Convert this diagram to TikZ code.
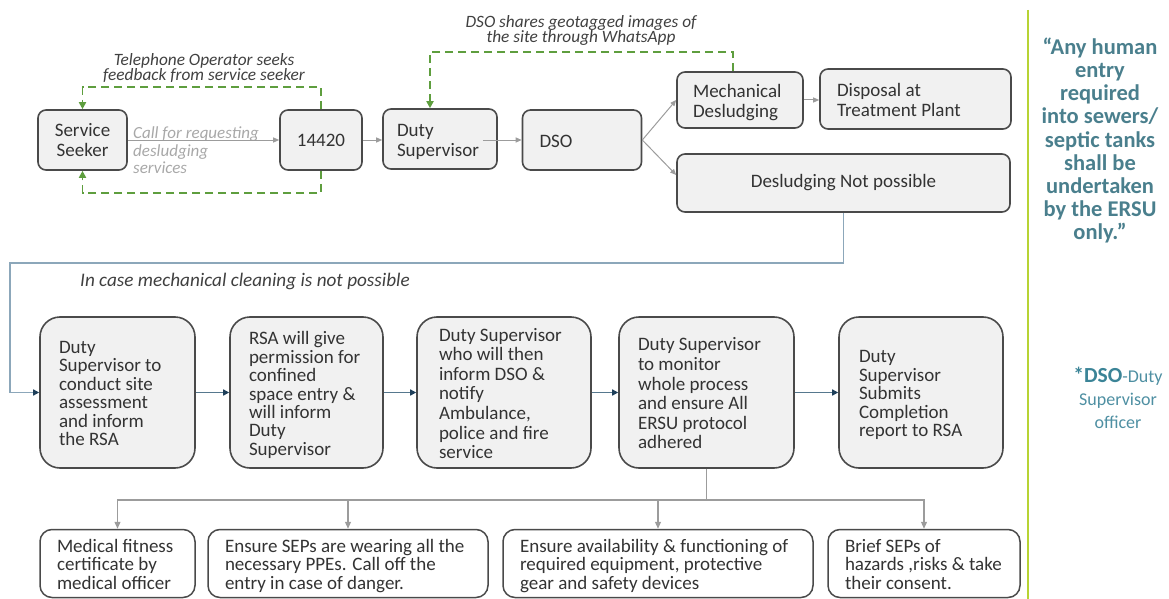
\documentclass[tikz,border=0pt]{standalone}
\usepackage{fontspec}
\setmainfont{Carlito}
\usetikzlibrary{arrows.meta}
\definecolor{boxfill}{HTML}{F1F1F1}
\definecolor{boxline}{HTML}{4A4A4A}
\definecolor{txt}{HTML}{333333}
\definecolor{flowgray}{HTML}{9C9C9C}
\definecolor{dashgreen}{HTML}{5E9E3E}
\definecolor{loopblue}{HTML}{8CA7BA}
\definecolor{linkblue}{HTML}{56788E}
\definecolor{tipnavy}{HTML}{1E3F5A}
\definecolor{ruleline}{HTML}{B7D334}
\definecolor{quotecol}{HTML}{4A7F8D}
\definecolor{notecol}{HTML}{4E8FA2}
\definecolor{notedark}{HTML}{3B8497}
\definecolor{labelgray}{HTML}{404040}
\definecolor{calltxt}{HTML}{A8A8A8}
% left-aligned block of lines in a fixed-width slot, set slightly low
\newcommand{\boxlines}[2]{\makebox[#1][l]{\raisebox{-3.5pt}[\height][\depth]{\begin{tabular}{@{}l@{}}#2\end{tabular}}}}
\begin{document}
\begin{tikzpicture}[x=1pt,y=-1pt,
  topbox/.style={draw=boxline, line width=1.6pt, fill=boxfill, rounded corners=8pt,
    text=txt, font=\fontsize{19}{20}\selectfont, inner ysep=0pt, minimum height=60pt},
  midbox/.style={draw=boxline, line width=1.6pt, fill=boxfill, rounded corners=20pt,
    text=txt, font=\fontsize{19}{18}\selectfont, inner ysep=0pt, minimum height=151pt,
    inner xsep=19pt},
  lowbox/.style={draw=boxline, line width=1.5pt, fill=white, rounded corners=12pt,
    text=txt, font=\fontsize{19}{18}\selectfont, inner ysep=0pt, minimum height=68pt,
    inner xsep=17pt},
  lbl/.style={text=labelgray, inner sep=0pt, font=\itshape\fontsize{17.3}{15}\selectfont},
  flow/.style={draw=flowgray, line width=1pt, -{Triangle[length=6pt,width=5pt]}},
  fbloop/.style={draw=dashgreen, line width=1.8pt, dash pattern=on 8pt off 5pt,
    -{Triangle[length=7pt,width=7pt]}},
  link/.style={draw=linkblue, line width=1.5pt, -{Triangle[length=6pt,width=6pt,color=tipnavy]}},
  loopline/.style={draw=loopblue, line width=1.5pt, -{Triangle[length=6pt,width=6pt,color=tipnavy]}},
  branch/.style={draw=flowgray, line width=1.2pt, -{Triangle[length=7pt,width=6pt]}}
]
\useasboundingbox (0,0) rectangle (1169,599);

% ---- request and desludging chain ----
\node[topbox, minimum width=89pt, align=center] (SS) at (82.5,140) {Service\\Seeker};
\node[topbox, minimum width=82pt] (N) at (321,140) {14420};
\node[topbox, inner xsep=14pt] (DS) at (440,139) {\boxlines{86pt}{Duty\\Supervisor}};
\node[topbox, inner xsep=17pt] (DSO) at (582,140) {\boxlines{85pt}{DSO}};
\node[topbox, minimum height=56pt, inner xsep=16pt] (Mech) at (740,100) {\boxlines{94pt}{Mechanical\\Desludging}};
\node[topbox, inner xsep=17pt] (Disp) at (915.5,99) {\boxlines{157pt}{Disposal at\\Treatment Plant}};
\node[topbox, minimum width=333pt, minimum height=58pt] (DNP) at (843.5,183) {Desludging Not possible};

\node[lbl, align=center] (fbk) at (204,68.5) {Telephone Operator seeks\\feedback from service seeker};
\node[lbl, align=center] (geo) at (581,30.5) {DSO shares geotagged images of\\the site through WhatsApp};
\node[anchor=west, align=left, inner sep=0pt, text=calltxt, font=\itshape\fontsize{17}{17.5}\selectfont] (call) at (133,150.5) {Call for requesting\\desludging\\services};

\draw[flow] (SS.east) -- (N.west);
\draw[flow] (N.east) -- (N.east -| DS.west);
\draw[flow] ([xshift=-15pt]DS.east |- DSO.west) -- (DSO.west);
\draw[flow] (DSO.east) -- (Mech.west);
\draw[flow] (DSO.east) -- ([yshift=8pt]DNP.west);
\draw[flow] (Mech.east) -- (Mech.east -| Disp.west);

\draw[fbloop] (N.north) -- ++(0,-22) -| (SS.north);
\draw[fbloop] (N.south) -- ++(0,22) -| (SS.south);
\draw[fbloop] ([xshift=-7pt]Mech.north) -- ++(0,-19) -| ([xshift=-10pt]DS.north);

% ---- confined space entry procedure ----
\node[midbox] (A) at (117.5,392.5) {\boxlines{117pt}{Duty\\Supervisor to\\conduct site\\assessment\\and inform\\the RSA}};
\node[midbox] (B) at (306.5,392.5) {\boxlines{115pt}{RSA will give\\permission for\\confined\\space entry \&\\will inform\\Duty\\Supervisor}};
\node[midbox, inner xsep=22pt, font=\fontsize{19}{19.6}\selectfont] (C) at (504,392.5) {\boxlines{130pt}{Duty Supervisor\\who will then\\inform DSO \&\\notify\\Ambulance,\\police and fire\\service}};
\node[midbox, font=\fontsize{19}{19.6}\selectfont] (D) at (706.5,392.5) {\boxlines{137pt}{Duty Supervisor\\to monitor\\whole process\\and ensure All\\ERSU protocol\\adhered}};
\node[midbox, inner xsep=20pt] (E) at (921,392.5) {\boxlines{124pt}{Duty\\Supervisor\\Submits\\Completion\\report to RSA}};

\coordinate (bendL) at (10,263);
\draw[loopline] (DNP.south) |- (bendL) |- (A.west);
\node[lbl, anchor=west, font=\itshape\fontsize{19.2}{19}\selectfont] (incase) at (80,281) {In case mechanical cleaning is not possible};

\draw[link] (A.east) -- (B.west);
\draw[link] (B.east) -- (C.west);
\draw[link] (C.east) -- (D.west);
\draw[link] (D.east) -- (E.west);

% ---- safety checks ----
\node[lowbox] (Med) at (117.5,563.5) {\boxlines{121pt}{Medical fitness\\certificate by\\medical officer}};
\node[lowbox] (SEP) at (348,563.5) {\boxlines{246pt}{Ensure SEPs are wearing all the\\necessary PPEs. Call off the\\entry in case of danger.}};
\node[lowbox] (Avail) at (658,563.5) {\boxlines{276pt}{Ensure availability \& functioning of\\required equipment, protective\\gear and safety devices}};
\node[lowbox] (Brief) at (924,563.5) {\boxlines{158pt}{Brief SEPs of\\hazards ,risks \& take\\their consent.}};

\coordinate (hub) at (706.5,500);
\draw[draw=flowgray, line width=1.2pt] (D.south) -- (hub);
\draw[branch] (hub) -| (Med.north);
\draw[branch] (hub) -| (SEP.north);
\draw[branch] (hub) -| (Avail.north);
\draw[branch] (hub) -| (Brief.north);

% ---- side panel ----
\draw[draw=ruleline, line width=1.5pt] (1028,10) -- (1028,599);
\node[align=center, inner sep=0pt, text=quotecol, font=\bfseries\fontsize{22.5}{23.2}\selectfont] (quote) at (1100,140.5)
  {“Any human\\entry\\required\\into sewers/\\septic tanks\\shall be\\undertaken\\by the ERSU\\only.”};
\node[align=center, inner sep=0pt, text=notecol, font=\fontsize{18}{23}\selectfont] (note) at (1118,398)
  {{\color{notedark}\bfseries\fontsize{21.5}{23}\selectfont *DSO}-Duty\\Supervisor\\officer};
\end{tikzpicture}
\end{document}
